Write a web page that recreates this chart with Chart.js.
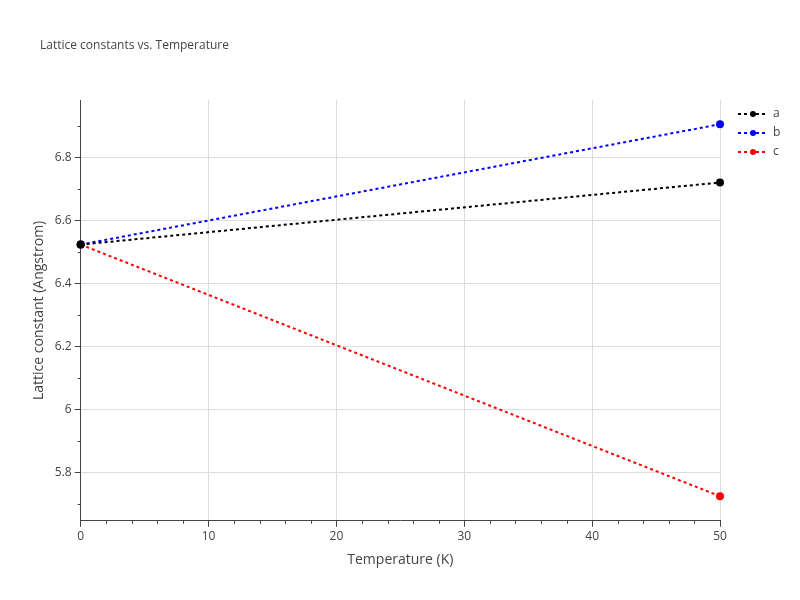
<!DOCTYPE html>
<html>
<head>
<script src="https://cdn.jsdelivr.net/npm/chart.js@4"></script>
<style>
body { margin: 0; background: #fff; }
#wrap { position: relative; width: 800px; height: 600px; }
</style>
</head>
<body>
<div id="wrap"><canvas id="c" width="800" height="600"></canvas></div>
<script>
const temps = [0, 50];
const aVals = [6.523, 6.72];
const bVals = [6.523, 6.905];
const cVals = [6.523, 5.724];
const seriesNames = ['a', 'b', 'c'];
const seriesColors = ['#000000', '#0000ff', '#ff0000'];
const chartTitle = 'Lattice constants vs. Temperature';

const fontFam = '"Open Sans", sans-serif';

function makeSet(i, vals) {
    return {
        label: seriesNames[i],
        data: temps.map((t, k) => ({ x: t, y: vals[k] })),
        borderColor: seriesColors[i],
        backgroundColor: seriesColors[i],
        borderWidth: 2,
        borderDash: [3, 3],
        pointRadius: 3,
        pointHoverRadius: 3,
        clip: false
    };
}

// title, legend and minor ticks drawn by hand
const extras = {
    id: 'extras',
    afterDraw(chart) {
        const ctx = chart.ctx;
        const xs = chart.scales.x, ys = chart.scales.y;
        ctx.save();
        ctx.strokeStyle = '#444';
        ctx.lineWidth = 1;
        for (let v = 2; v < 50; v += 2) {
            if (v % 10 === 0) continue;
            const px = Math.round(xs.getPixelForValue(v)) + 0.5;
            ctx.beginPath();
            ctx.moveTo(px, ys.bottom);
            ctx.lineTo(px, ys.bottom + 3);
            ctx.stroke();
        }
        for (let v = 5.7; v < 7.0; v += 0.2) {
            const py = Math.round(ys.getPixelForValue(v)) + 0.5;
            ctx.beginPath();
            ctx.moveTo(xs.left - 3, py);
            ctx.lineTo(xs.left, py);
            ctx.stroke();
        }

        ctx.fillStyle = '#444';
        ctx.font = '12px ' + fontFam;
        ctx.textBaseline = 'middle';
        ctx.fillText(chartTitle, 40, 46);

        seriesNames.forEach((name, i) => {
            const y = 114 + i * 19;
            ctx.strokeStyle = seriesColors[i];
            ctx.fillStyle = seriesColors[i];
            ctx.lineWidth = 2;
            ctx.setLineDash([3, 3]);
            ctx.beginPath();
            ctx.moveTo(738, y);
            ctx.lineTo(768, y);
            ctx.stroke();
            ctx.setLineDash([]);
            ctx.beginPath();
            ctx.arc(753, y, 3, 0, Math.PI * 2);
            ctx.fill();
            ctx.fillStyle = '#444';
            ctx.fillText(name, 773, y);
        });
        ctx.restore();
    }
};

new Chart(document.getElementById('c'), {
    type: 'line',
    data: { datasets: [makeSet(0, aVals), makeSet(1, bVals), makeSet(2, cVals)] },
    plugins: [extras],
    options: {
        responsive: false,
        animation: false,
        layout: { padding: { left: 27, right: 80, top: 100, bottom: 28 } },
        plugins: {
            legend: { display: false },
            title: { display: false },
            tooltip: { enabled: false }
        },
        scales: {
            x: {
                type: 'linear',
                min: 0, max: 50,
                ticks: { stepSize: 10, color: '#444', font: { family: fontFam, size: 12 } },
                grid: { color: '#dddddd', tickLength: 6, tickColor: '#444' },
                border: { color: '#444' },
                title: { display: true, text: 'Temperature (K)', color: '#444', font: { family: fontFam, size: 14 } }
            },
            y: {
                min: 5.646, max: 6.982,
                afterBuildTicks(s) {
                    s.ticks = [5.8, 6.0, 6.2, 6.4, 6.6, 6.8].map(v => ({ value: v }));
                },
                ticks: {
                    color: '#444', font: { family: fontFam, size: 12 },
                    callback: v => (Math.abs(v - 6) < 1e-9 ? '6' : v.toFixed(1))
                },
                grid: { color: '#dddddd', tickLength: 6, tickColor: '#444' },
                border: { color: '#444' },
                title: { display: true, text: 'Lattice constant (Angstrom)', color: '#444', font: { family: fontFam, size: 14 } }
            }
        }
    }
});
</script>
</body>
</html>
